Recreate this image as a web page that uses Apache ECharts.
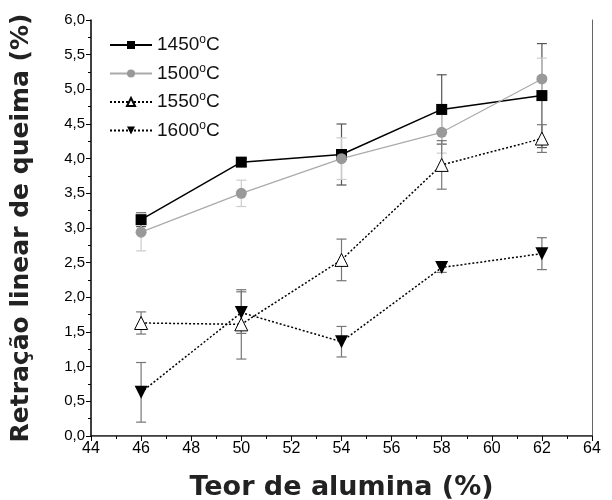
<!DOCTYPE html>
<html>
<head>
<meta charset="utf-8">
<script src="https://cdn.jsdelivr.net/npm/echarts@6/dist/echarts.min.js"></script>
<style>
  html, body { margin: 0; padding: 0; background: #fff; }
  #chart { width: 612px; height: 500px; }
</style>
</head>
<body>
<div id="chart"></div>
<script>
// dados
const teor = [46, 50, 54, 58, 62];

const names = ['1450°C', '1500°C', '1550°C', '1600°C'];

const ret1450 = [3.12, 3.95, 4.06, 4.71, 4.91];
const err1450 = [0.10, 0.05, 0.44, 0.50, 0.75];

const ret1500 = [2.94, 3.50, 4.00, 4.38, 5.15];
const err1500 = [0.27, 0.19, 0.30, 0.30, 0.30];

const ret1550 = [1.63, 1.61, 2.54, 3.91, 4.29];
const err1550 = [0.16, 0.50, 0.30, 0.35, 0.20];

const ret1600 = [0.63, 1.78, 1.36, 2.43, 2.63];
const err1600 = [0.43, 0.30, 0.22, 0.07, 0.23];

const chart = echarts.init(document.getElementById('chart'));
const FONT = "'Liberation Sans', Arial, sans-serif";
const TITLE_FONT = "'DejaVu Sans', Arial, sans-serif";

// pares [x, y]
function pts(vals) {
    return teor.map((x, i) => [x, vals[i]]);
}

// barras de erro: [x, baixo, alto]
function errData(vals, errs) {
    return teor.map((x, i) => [x, vals[i] - errs[i], vals[i] + errs[i]]);
}

function errSeries(vals, errs, color) {
    return {
        type: 'custom',
        z: 1,
        silent: true,
        data: errData(vals, errs),
        encode: { x: 0, y: [1, 2] },
        renderItem: function (params, api) {
            const lo = api.coord([api.value(0), api.value(1)]);
            const hi = api.coord([api.value(0), api.value(2)]);
            const w = 5;
            const style = { stroke: color, lineWidth: 1.2 };
            return {
                type: 'group',
                children: [
                    { type: 'line', shape: { x1: lo[0], y1: lo[1], x2: hi[0], y2: hi[1] }, style },
                    { type: 'line', shape: { x1: lo[0] - w, y1: lo[1], x2: lo[0] + w, y2: lo[1] }, style },
                    { type: 'line', shape: { x1: hi[0] - w, y1: hi[1], x2: hi[0] + w, y2: hi[1] }, style }
                ]
            };
        }
    };
}

function lineSeries(name, vals, opts) {
    return Object.assign({
        name: name,
        type: 'line',
        z: 3,
        data: pts(vals),
        symbolSize: 11
    }, opts);
}

chart.setOption({
    animation: false,
    grid: { left: 91, right: 20, top: 20, bottom: 64, outerBoundsMode: 'none' },
    legend: {
        data: names,
        orient: 'vertical',
        left: 104,
        top: 29,
        itemWidth: 42,
        itemHeight: 10,
        itemGap: 8,
        // "o" sobrescrito como no original
        formatter: n => '{n|' + n.replace('°C', '') + '}{s|o}{n|C}',
        textStyle: {
            fontFamily: FONT, fontSize: 19, color: '#111',
            rich: {
                n: { fontFamily: FONT, fontSize: 19, color: '#111', lineHeight: 22, verticalAlign: 'middle' },
                s: { fontFamily: FONT, fontSize: 12, color: '#111', lineHeight: 12, verticalAlign: 'top' }
            }
        }
    },
    xAxis: [{
        type: 'value',
        min: 44,
        max: 64,
        interval: 2,
        name: 'Teor de alumina (%)',
        nameLocation: 'middle',
        nameGap: 38,
        nameTextStyle: { fontFamily: TITLE_FONT, fontSize: 27, fontWeight: 'bold', color: '#222' },
        axisLine: { onZero: false, lineStyle: { color: '#000', width: 1.5 } },
        axisTick: { length: 5, lineStyle: { color: '#000' } },
        minorTick: { show: true, splitNumber: 2, length: 3, lineStyle: { color: '#000' } },
        axisLabel: { fontFamily: FONT, fontSize: 16, color: '#000', margin: 5 },
        splitLine: { show: false }
    }, {
        type: 'value',
        position: 'top',
        min: 44,
        max: 64,
        axisLine: { show: true, lineStyle: { color: '#666', width: 1 } },
        axisTick: { show: false },
        axisLabel: { show: false },
        splitLine: { show: false }
    }],
    yAxis: [{
        type: 'value',
        min: 0,
        max: 6,
        interval: 0.5,
        name: 'Retração linear de queima (%)',
        nameLocation: 'middle',
        nameGap: 57,
        nameTextStyle: { fontFamily: TITLE_FONT, fontSize: 25, fontWeight: 'bold', color: '#222' },
        axisLine: { show: true, onZero: false, lineStyle: { color: '#000', width: 1.5 } },
        axisTick: { show: true, length: 5, lineStyle: { color: '#000' } },
        minorTick: { show: true, splitNumber: 2, length: 3, lineStyle: { color: '#000' } },
        axisLabel: {
            fontFamily: FONT, fontSize: 15, color: '#000', margin: 6,
            formatter: v => v.toFixed(1).replace('.', ',')
        },
        splitLine: { show: false }
    }, {
        type: 'value',
        position: 'right',
        min: 0,
        max: 6,
        axisLine: { show: true, lineStyle: { color: '#666', width: 1 } },
        axisTick: { show: false },
        axisLabel: { show: false },
        splitLine: { show: false }
    }],
    series: [
        errSeries(ret1450, err1450, '#555'),
        errSeries(ret1500, err1500, '#ccc'),
        errSeries(ret1550, err1550, '#777'),
        errSeries(ret1600, err1600, '#777'),
        lineSeries(names[0], ret1450, {
            symbol: 'rect',
            symbolSize: 11,
            itemStyle: { color: '#000' },
            lineStyle: { color: '#000', width: 1.5 }
        }),
        lineSeries(names[1], ret1500, {
            symbol: 'circle',
            symbolSize: 11,
            itemStyle: { color: '#999' },
            lineStyle: { color: '#aaa', width: 1.2 }
        }),
        lineSeries(names[2], ret1550, {
            symbol: 'triangle',
            symbolSize: 13,
            itemStyle: { color: '#fff', borderColor: '#000', borderWidth: 1 },
            lineStyle: { color: '#000', width: 1.5, type: [2, 2] }
        }),
        lineSeries(names[3], ret1600, {
            symbol: 'triangle',
            symbolRotate: 180,
            symbolSize: 13,
            itemStyle: { color: '#000' },
            lineStyle: { color: '#000', width: 1.5, type: [2, 2] }
        })
    ]
});
</script>
</body>
</html>
